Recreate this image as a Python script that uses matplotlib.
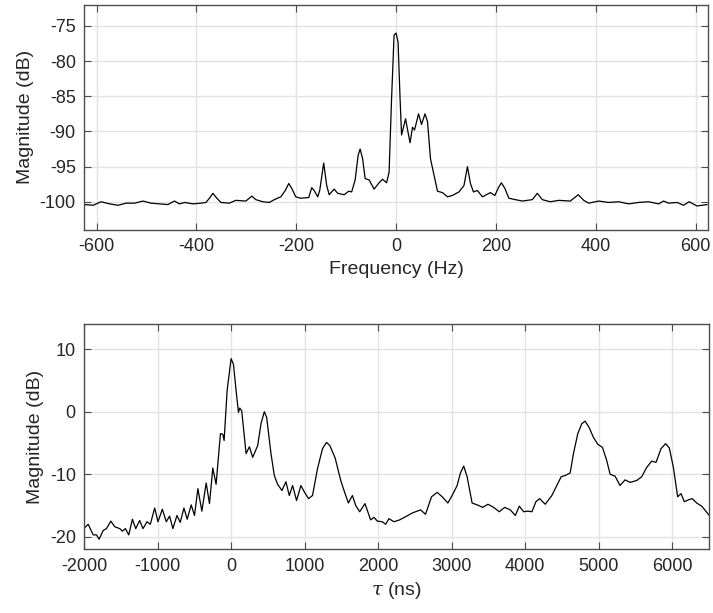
import matplotlib
matplotlib.use('Agg')
import matplotlib.pyplot as plt
import numpy as np

plt.rcParams['font.family'] = ['Liberation Sans', 'DejaVu Sans']
plt.rcParams['axes.unicode_minus'] = False
plt.rcParams['mathtext.fontset'] = 'dejavuserif'

# --- top: spectrum ---
freq_hz = [-624, -607, -591, -574, -557, -541, -524, -507, -491, -474, -457, -444, -434, -424,
           -407, -391, -381, -374, -367, -359, -351, -334, -321, -301, -289, -281, -267, -254,
           -244, -231, -222, -215, -209, -201, -191, -175, -169, -164, -157, -153, -145, -139,
           -134, -124, -117, -104, -95, -89, -82, -76, -72, -67, -62, -54, -44, -34, -27, -19,
           -14, -9, -4, 0, 4, 8, 11, 19, 25, 28, 33, 37, 45, 51, 58, 63, 69, 76, 83, 93, 103,
           113, 126, 136, 143, 149, 155, 163, 173, 189, 198, 205, 211, 218, 226, 239, 253, 273,
           283, 293, 309, 326, 349, 365, 376, 386, 406, 426, 446, 466, 486, 506, 526, 536, 546,
           563, 576, 587, 603, 623]
spec_db = [-100.4, -100.5, -100.0, -100.3, -100.5, -100.2, -100.2, -99.9, -100.2, -100.3, -100.4,
           -99.9, -100.3, -100.1, -100.3, -100.2, -100.1, -99.5, -98.8, -99.5, -100.1, -100.2,
           -99.8, -99.9, -99.2, -99.7, -100.0, -100.1, -99.7, -99.3, -98.4, -97.4, -98.1, -99.3,
           -99.5, -99.4, -98.0, -98.4, -99.3, -98.4, -94.5, -97.7, -99.0, -98.2, -98.8, -99.0,
           -98.5, -98.6, -96.9, -93.4, -92.5, -93.9, -96.7, -96.9, -98.2, -97.3, -96.8, -97.3,
           -95.8, -85.3, -76.3, -76.0, -77.3, -85.3, -90.5, -88.2, -90.5, -91.6, -89.4, -89.8,
           -87.5, -89.0, -87.5, -88.6, -93.9, -96.2, -98.5, -98.7, -99.3, -99.1, -98.6, -97.7,
           -95.0, -97.4, -98.6, -98.4, -99.3, -98.7, -99.1, -98.0, -97.3, -98.1, -99.5, -99.7,
           -99.9, -99.7, -98.8, -99.7, -100.0, -99.8, -99.9, -99.0, -99.8, -100.2, -99.9,
           -100.1, -100.0, -100.3, -100.1, -100.0, -100.3, -99.9, -100.2, -100.1, -100.5,
           -100.0, -100.6, -100.4]

# --- bottom: delay profile ---
tau_ns = [-2004, -1945, -1877, -1832, -1796, -1741, -1696, -1637, -1583, -1515, -1479, -1438,
          -1393, -1343, -1298, -1244, -1199, -1144, -1099, -1040, -995, -936, -882, -837, -792,
          -737, -692, -642, -597, -543, -498, -452, -398, -339, -294, -249, -204, -145, -113,
          -95, -54, 0, 32, 68, 100, 118, 145, 204, 249, 294, 362, 407, 452, 484, 543, 588, 633,
          692, 746, 792, 837, 891, 950, 995, 1054, 1108, 1176, 1244, 1298, 1343, 1416, 1492,
          1537, 1596, 1651, 1696, 1750, 1822, 1899, 1945, 1990, 2057, 2103, 2148, 2216, 2293,
          2374, 2465, 2578, 2646, 2728, 2805, 2873, 2950, 3008, 3076, 3121, 3166, 3212, 3280,
          3370, 3424, 3496, 3573, 3650, 3723, 3800, 3868, 3922, 3981, 4040, 4094, 4148, 4198,
          4275, 4365, 4433, 4492, 4546, 4614, 4659, 4718, 4773, 4818, 4872, 4931, 4990, 5054,
          5112, 5158, 5225, 5293, 5361, 5429, 5520, 5588, 5656, 5724, 5783, 5851, 5914, 5964,
          6019, 6077, 6123, 6168, 6222, 6277, 6336, 6404, 6481, 6500]
delay_db = [-18.7, -18.0, -19.7, -19.7, -20.4, -19.0, -18.7, -17.5, -18.4, -18.7, -19.1, -18.7,
            -19.7, -17.2, -18.7, -17.4, -18.7, -17.6, -18.0, -15.4, -17.6, -15.6, -17.6, -16.7,
            -18.7, -16.6, -17.7, -15.4, -17.2, -14.9, -16.6, -12.3, -15.9, -11.4, -14.7, -9.0,
            -11.6, -3.5, -3.6, -4.6, 3.4, 8.5, 7.6, 3.4, -0.1, 0.6, 0.1, -6.7, -5.6, -7.3, -5.4,
            -1.9, 0.0, -0.9, -6.7, -10.2, -11.6, -12.6, -11.2, -13.4, -11.8, -14.2, -11.8, -12.8,
            -13.9, -13.4, -9.1, -5.9, -4.9, -5.4, -7.4, -11.0, -12.6, -14.6, -13.4, -15.0, -16.0,
            -14.7, -17.3, -16.9, -17.5, -17.6, -18.0, -17.1, -17.6, -17.3, -16.8, -16.2, -15.7,
            -16.4, -13.6, -12.9, -13.6, -14.6, -13.4, -11.8, -9.8, -8.7, -10.4, -14.6, -15.0,
            -15.3, -14.8, -15.3, -16.0, -15.3, -15.7, -16.6, -15.1, -16.0, -15.9, -16.0, -14.4,
            -13.9, -14.8, -13.4, -11.8, -10.4, -10.2, -9.8, -6.7, -3.5, -1.9, -1.5, -2.5, -4.1,
            -5.2, -5.7, -7.8, -10.0, -10.3, -11.8, -10.9, -11.3, -11.0, -10.4, -8.9, -7.9, -8.1,
            -5.9, -5.1, -5.8, -8.9, -13.6, -13.1, -14.4, -14.1, -13.9, -14.6, -15.1, -16.2, -16.5]

axis_col = '#4d4d4d'
grid_col = '#e3e3e3'


def style(ax):
    ax.grid(True, color=grid_col, linewidth=1.0)
    ax.set_axisbelow(True)
    for s in ax.spines.values():
        s.set_color(axis_col)
        s.set_linewidth(1.0)
    ax.tick_params(direction='in', top=True, right=True, length=5, width=0.8,
                   colors=axis_col, labelcolor='#262626', labelsize=13, pad=6)


fig = plt.figure(figsize=(7.13, 6.13), dpi=100)
ax1 = fig.add_axes([0.118, 0.625, 0.875, 0.367])
ax2 = fig.add_axes([0.118, 0.104, 0.876, 0.367])

ax1.plot(freq_hz, spec_db, color='black', linewidth=0.9)
ax1.set_xlim(-625, 625)
ax1.set_ylim(-104, -72)
ax1.set_xticks(np.arange(-600, 601, 200))
ax1.set_yticks(np.arange(-100, -74, 5))
ax1.set_xlabel('Frequency (Hz)', fontsize=14, color='#262626')
ax1.set_ylabel('Magnitude (dB)', fontsize=14, color='#262626')
style(ax1)

ax2.plot(tau_ns, delay_db, color='black', linewidth=0.9)
ax2.set_xlim(-2000, 6500)
ax2.set_ylim(-22, 14)
ax2.set_xticks(np.arange(-2000, 6001, 1000))
ax2.set_yticks([-20, -10, 0, 10])
ax2.set_xlabel(r'$\tau$ (ns)', fontsize=14, color='#262626')
ax2.set_ylabel('Magnitude (dB)', fontsize=14, color='#262626')
style(ax2)

fig.savefig('out.png', dpi=100)
